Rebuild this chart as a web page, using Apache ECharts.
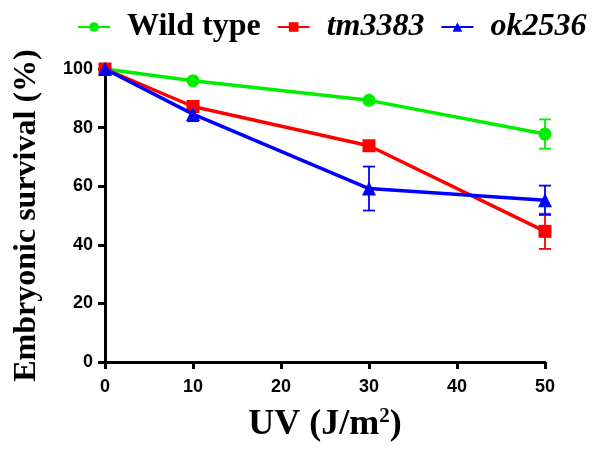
<!DOCTYPE html>
<html><head><meta charset="utf-8">
<script src="https://cdn.jsdelivr.net/npm/echarts@6/dist/echarts.min.js"></script>
<style>html,body{margin:0;padding:0;background:#fff}#c{width:592px;height:451px}</style>
</head><body><div id="c"></div>
<script>
const doses = [0, 10, 30, 50];
const wildType = [100, 96, 89.3, 77.8];
const wildTypeErr = [0, 0, 0, 5];
const tm3383 = [100, 87.2, 73.8, 44.6];
const tm3383Err = [0, 0, 0, 6];
const ok2536 = [100, 84.6, 59.2, 55.2];
const ok2536Err = [0, 2.4, 7.5, 5];
const xTicks = [0, 10, 20, 30, 40, 50];
const yTicks = [0, 20, 40, 60, 80, 100];

const names = ['Wild type', 'tm3383', 'ok2536'];
const colors = ['#00ee00', '#ff0000', '#0000ff'];
const symbols = ['circle', 'rect', 'triangle'];
const vals = [wildType, tm3383, ok2536];
const errs = [wildTypeErr, tm3383Err, ok2536Err];

const series = [];
names.forEach((n, i) => {
  series.push({
    name: n, type: 'line',
    data: doses.map((d, k) => [d, vals[i][k]]),
    symbol: symbols[i], symbolSize: i === 2 ? 14 : 13,
    lineStyle: {color: colors[i], width: 3.5},
    itemStyle: {color: colors[i]},
    z: 3 + i
  });
  series.push({
    type: 'custom', name: n + ' err',
    data: doses.map((d, k) => [d, vals[i][k] - errs[i][k], vals[i][k] + errs[i][k]]),
    renderItem: function (params, api) {
      const x = api.value(0);
      const lo = api.coord([x, api.value(1)]);
      const hi = api.coord([x, api.value(2)]);
      if (Math.abs(lo[1] - hi[1]) < 0.5) return null;
      const w = 6;
      const st = {stroke: colors[i], lineWidth: 1.8};
      return {type: 'group', children: [
        {type: 'line', shape: {x1: lo[0], y1: lo[1], x2: hi[0], y2: hi[1]}, style: st},
        {type: 'line', shape: {x1: lo[0] - w, y1: lo[1], x2: lo[0] + w, y2: lo[1]}, style: st},
        {type: 'line', shape: {x1: hi[0] - w, y1: hi[1], x2: hi[0] + w, y2: hi[1]}, style: st}
      ]};
    },
    z: 2 + i,
    silent: true
  });
});

const chart = echarts.init(document.getElementById('c'));
chart.setOption({
  animation: false,
  backgroundColor: '#fff',
  grid: {left: 105, right: 47, top: 69, bottom: 89},
  legend: {
    data: names,
    top: 6, left: 72,
    itemWidth: 32, itemHeight: 12, itemGap: 16,
    formatter: function (n) { return n === 'Wild type' ? '{b|' + n + '}' : '{i|' + n + '}'; },
    textStyle: {
      rich: {
        b: {fontFamily: 'Liberation Serif', fontWeight: 'bold', fontSize: 32, color: '#000', padding: [0, 0, 0, 12]},
        i: {fontFamily: 'Liberation Serif', fontWeight: 'bold', fontStyle: 'italic', fontSize: 32, color: '#000', padding: [0, 0, 0, 12]}
      }
    }
  },
  xAxis: {
    type: 'value', min: 0, max: 50, interval: 10,
    name: 'UV (J/m{s|2})', nameLocation: 'middle', nameGap: 44,
    nameTextStyle: {
      fontFamily: 'Liberation Serif', fontWeight: 'bold', fontSize: 36, color: '#000',
      rich: {s: {fontFamily: 'Liberation Serif', fontWeight: 'bold', fontSize: 21, color: '#000', verticalAlign: 'top', padding: [0, 0, 16, 0]}}
    },
    axisLine: {lineStyle: {color: '#000', width: 3}},
    axisTick: {length: 7, lineStyle: {color: '#000', width: 3}},
    axisLabel: {fontFamily: 'Liberation Sans', fontWeight: 'bold', fontSize: 18, color: '#000', margin: 16,
      formatter: v => xTicks.includes(v) ? String(v) : ''},
    splitLine: {show: false}
  },
  yAxis: {
    type: 'value', min: 0, max: 100, interval: 20,
    name: 'Embryonic survival (%)', nameLocation: 'middle', nameGap: 62, nameRotate: 90,
    nameTextStyle: {fontFamily: 'Liberation Serif', fontWeight: 'bold', fontSize: 32, color: '#000'},
    axisLine: {show: true, lineStyle: {color: '#000', width: 3}},
    axisTick: {show: true, length: 7, lineStyle: {color: '#000', width: 3}},
    axisLabel: {fontFamily: 'Liberation Sans', fontWeight: 'bold', fontSize: 18, color: '#000', margin: 12,
      formatter: v => yTicks.includes(v) ? String(v) : ''},
    splitLine: {show: false}
  },
  series: series
});
</script></body></html>
